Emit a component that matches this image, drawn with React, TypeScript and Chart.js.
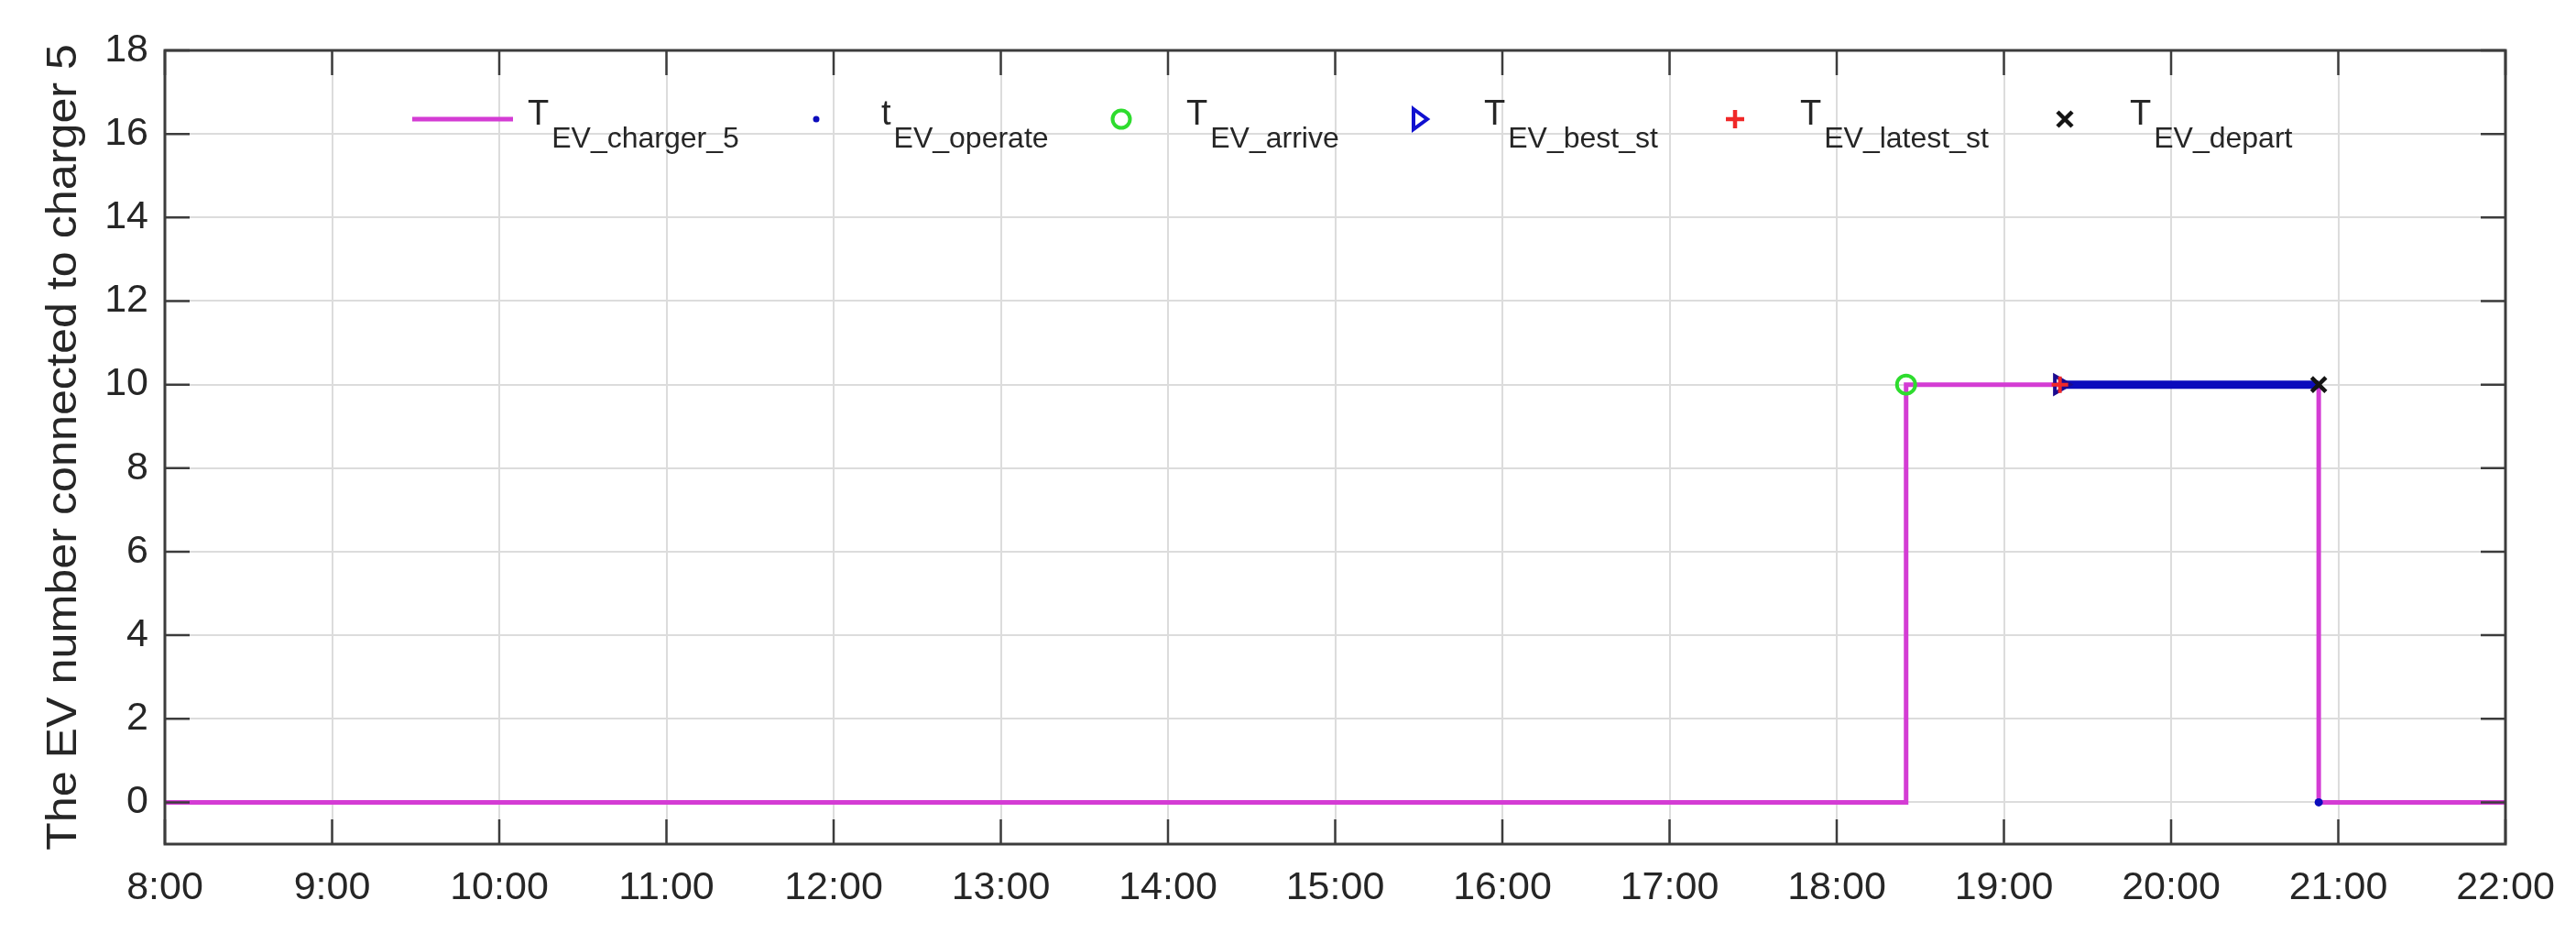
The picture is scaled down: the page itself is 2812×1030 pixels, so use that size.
import { useEffect, useRef } from 'react';
import { Chart, registerables } from 'chart.js';

Chart.register(...registerables);

// ---------- data ----------
const hourTicks = [8, 9, 10, 11, 12, 13, 14, 15, 16, 17, 18, 19, 20, 21, 22];
const hourLabels = ['8:00', '9:00', '10:00', '11:00', '12:00', '13:00', '14:00', '15:00', '16:00', '17:00', '18:00', '19:00', '20:00', '21:00', '22:00'];
const yTickValues = [0, 2, 4, 6, 8, 10, 12, 14, 16, 18];
const yTickLabels = ['0', '2', '4', '6', '8', '10', '12', '14', '16', '18'];

// EV number connected to charger 5 (step function)
const chargerTimes = [8, 18.415, 20.883, 22];
const chargerCounts = [0, 10, 0, 0];

// operating interval
const operateTimes = [19.335, 20.883];
const operateValues = [10, 10];
const operateEndTimes = [20.883];
const operateEndValues = [0];

const arriveTimes = [18.415];
const arriveValues = [10];
const bestStartTimes = [19.335];
const bestStartValues = [10];
const latestStartTimes = [19.335];
const latestStartValues = [10];
const departTimes = [20.883];
const departValues = [10];

const legendMain = ['T', 't', 'T', 'T', 'T', 'T'];
const legendSub = ['EV_charger_5', 'EV_operate', 'EV_arrive', 'EV_best_st', 'EV_latest_st', 'EV_depart'];
const yTitle = 'The EV number connected to charger 5';

// ---------- styles ----------
const FONT = '"Liberation Sans", Arial, Helvetica, sans-serif';
const MAGENTA = '#d43cd4';
const BLUE = '#0c0cbc';
const GREEN = '#2edc2e';
const RED = '#f02828';
const BLACK = '#141414';
const TEXT = '#262626';
const AXIS = '#3c3c3c';

const pts = (xs: number[], ys: number[]) => xs.map((x, i) => ({ x, y: ys[i] }));

function drawMarker(ctx: CanvasRenderingContext2D, kind: string, cx: number, cy: number) {
  ctx.save();
  ctx.lineCap = 'butt';
  if (kind === 'line') {
    ctx.strokeStyle = MAGENTA;
    ctx.lineWidth = 5;
    ctx.beginPath();
    ctx.moveTo(cx - 55, cy);
    ctx.lineTo(cx + 55, cy);
    ctx.stroke();
  } else if (kind === 'dot') {
    ctx.fillStyle = BLUE;
    ctx.beginPath();
    ctx.arc(cx, cy, 3.5, 0, Math.PI * 2);
    ctx.fill();
  } else if (kind === 'circle') {
    ctx.strokeStyle = GREEN;
    ctx.lineWidth = 4;
    ctx.beginPath();
    ctx.arc(cx, cy, 9.5, 0, Math.PI * 2);
    ctx.stroke();
  } else if (kind === 'tri') {
    ctx.strokeStyle = '#1010d0';
    ctx.lineWidth = 4;
    ctx.beginPath();
    ctx.moveTo(cx - 6, cy - 11);
    ctx.lineTo(cx + 9, cy);
    ctx.lineTo(cx - 6, cy + 11);
    ctx.closePath();
    ctx.stroke();
  } else if (kind === 'plus') {
    ctx.strokeStyle = RED;
    ctx.lineWidth = 4.5;
    ctx.beginPath();
    ctx.moveTo(cx - 10, cy);
    ctx.lineTo(cx + 10, cy);
    ctx.moveTo(cx, cy - 10);
    ctx.lineTo(cx, cy + 10);
    ctx.stroke();
  } else if (kind === 'x') {
    ctx.strokeStyle = BLACK;
    ctx.lineWidth = 4.5;
    ctx.beginPath();
    ctx.moveTo(cx - 8, cy - 8);
    ctx.lineTo(cx + 8, cy + 8);
    ctx.moveTo(cx + 8, cy - 8);
    ctx.lineTo(cx - 8, cy + 8);
    ctx.stroke();
  }
  ctx.restore();
}

const framePlugin = {
  id: 'matlabFrame',
  afterDraw(chart: any) {
    const ctx: CanvasRenderingContext2D = chart.ctx;
    const a = chart.chartArea;
    const xs = chart.scales.x;
    const ys = chart.scales.y;
    ctx.save();
    // box
    ctx.strokeStyle = AXIS;
    ctx.lineWidth = 3;
    ctx.strokeRect(a.left, a.top, a.right - a.left, a.bottom - a.top);
    // inward ticks
    const tl = 27;
    ctx.lineWidth = 2.5;
    ctx.beginPath();
    hourTicks.forEach((h) => {
      const px = xs.getPixelForValue(h);
      ctx.moveTo(px, a.bottom);
      ctx.lineTo(px, a.bottom - tl);
      ctx.moveTo(px, a.top);
      ctx.lineTo(px, a.top + tl);
    });
    yTickValues.forEach((v) => {
      const py = ys.getPixelForValue(v);
      ctx.moveTo(a.left, py);
      ctx.lineTo(a.left + tl, py);
      ctx.moveTo(a.right, py);
      ctx.lineTo(a.right - tl, py);
    });
    ctx.stroke();

    // y title
    ctx.save();
    ctx.fillStyle = TEXT;
    ctx.font = `47px ${FONT}`;
    ctx.textAlign = 'center';
    ctx.textBaseline = 'middle';
    const w = ctx.measureText(yTitle).width;
    ctx.translate(70, (a.top + a.bottom) / 2);
    ctx.rotate(-Math.PI / 2);
    ctx.scale(880 / w, 1);
    ctx.fillText(yTitle, 0, 0);
    ctx.restore();

    // legend
    const kinds = ['line', 'dot', 'circle', 'tri', 'plus', 'x'];
    const centers = [505, 891, 1224, 1549, 1894, 2254];
    const symY = 130;
    kinds.forEach((k, i) => {
      const cx = centers[i];
      drawMarker(ctx, k, cx, symY);
      ctx.fillStyle = TEXT;
      ctx.textAlign = 'left';
      ctx.textBaseline = 'alphabetic';
      ctx.font = `38px ${FONT}`;
      const tx = cx + 71;
      ctx.fillText(legendMain[i], tx, 136);
      const mw = ctx.measureText(legendMain[i]).width;
      ctx.font = `32px ${FONT}`;
      ctx.fillText(legendSub[i], tx + mw + 3, 161);
    });
    ctx.restore();
  },
};

export default function App() {
  const canvasRef = useRef<HTMLCanvasElement | null>(null);

  useEffect(() => {
    document.body.style.margin = '0';
    const canvas = canvasRef.current;
    if (!canvas) return;
    const chart = new Chart(canvas, {
      type: 'line',
      data: {
        datasets: [
          {
            label: 'T_EV_depart',
            data: pts(departTimes, departValues),
            showLine: false,
            pointStyle: 'crossRot',
            pointRadius: 11,
            pointBorderWidth: 4.5,
            pointBorderColor: BLACK,
            pointBackgroundColor: BLACK,
          },
          {
            label: 'T_EV_latest_st',
            data: pts(latestStartTimes, latestStartValues),
            showLine: false,
            pointStyle: 'cross',
            pointRadius: 9,
            pointBorderWidth: 4,
            pointBorderColor: RED,
            pointBackgroundColor: RED,
          },
          {
            label: 'T_EV_best_st',
            data: pts(bestStartTimes, bestStartValues),
            showLine: false,
            pointStyle: 'triangle',
            pointRotation: 90,
            pointRadius: 11,
            pointBorderWidth: 4,
            pointBorderColor: '#1a0a90',
            pointBackgroundColor: 'rgba(0,0,0,0)',
          },
          {
            label: 'T_EV_arrive',
            data: pts(arriveTimes, arriveValues),
            showLine: false,
            pointStyle: 'circle',
            pointRadius: 10,
            pointBorderWidth: 4,
            pointBorderColor: GREEN,
            pointBackgroundColor: 'rgba(0,0,0,0)',
          },
          {
            label: 't_EV_operate end',
            data: pts(operateEndTimes, operateEndValues),
            showLine: false,
            pointStyle: 'circle',
            pointRadius: 4.5,
            pointBorderWidth: 0,
            pointBackgroundColor: BLUE,
          },
          {
            label: 't_EV_operate',
            data: pts(operateTimes, operateValues),
            borderColor: BLUE,
            borderWidth: 9,
            borderCapStyle: 'butt',
            pointRadius: 0,
          },
          {
            label: 'T_EV_charger_5',
            data: pts(chargerTimes, chargerCounts),
            stepped: true,
            borderColor: MAGENTA,
            borderWidth: 5,
            pointRadius: 0,
          },
        ],
      },
      options: {
        responsive: false,
        animation: false,
        devicePixelRatio: 1,
        layout: { padding: { left: 0, right: 77, top: 55, bottom: 0 } },
        plugins: {
          legend: { display: false },
          tooltip: { enabled: false },
          title: { display: false },
        },
        scales: {
          x: {
            type: 'linear',
            min: 8,
            max: 22,
            afterBuildTicks: (s: any) => {
              s.ticks = hourTicks.map((v) => ({ value: v }));
            },
            afterFit: (s: any) => {
              s.height = 109;
            },
            grid: { color: '#dcdcdc', lineWidth: 2, drawTicks: false },
            border: { display: false },
            ticks: {
              callback: (_v: any, i: number) => hourLabels[i],
              font: { size: 43, family: FONT },
              color: TEXT,
              padding: 22,
              maxRotation: 0,
              autoSkip: false,
            },
          },
          y: {
            type: 'linear',
            min: -1,
            max: 18,
            afterBuildTicks: (s: any) => {
              s.ticks = yTickValues.map((v) => ({ value: v }));
            },
            afterFit: (s: any) => {
              s.width = 180;
            },
            grid: { color: '#dcdcdc', lineWidth: 2, drawTicks: false },
            border: { display: false },
            ticks: {
              callback: (_v: any, i: number) => yTickLabels[i],
              font: { size: 43, family: FONT },
              color: TEXT,
              padding: 18,
              autoSkip: false,
            },
          },
        },
      },
      plugins: [framePlugin],
    } as any);
    return () => chart.destroy();
  }, []);

  return (
    <div style={{ position: 'fixed', left: 0, top: 0, width: 2812, height: 1030, background: '#fff' }}>
      <canvas ref={canvasRef} width={2812} height={1030} style={{ display: 'block' }} />
    </div>
  );
}
